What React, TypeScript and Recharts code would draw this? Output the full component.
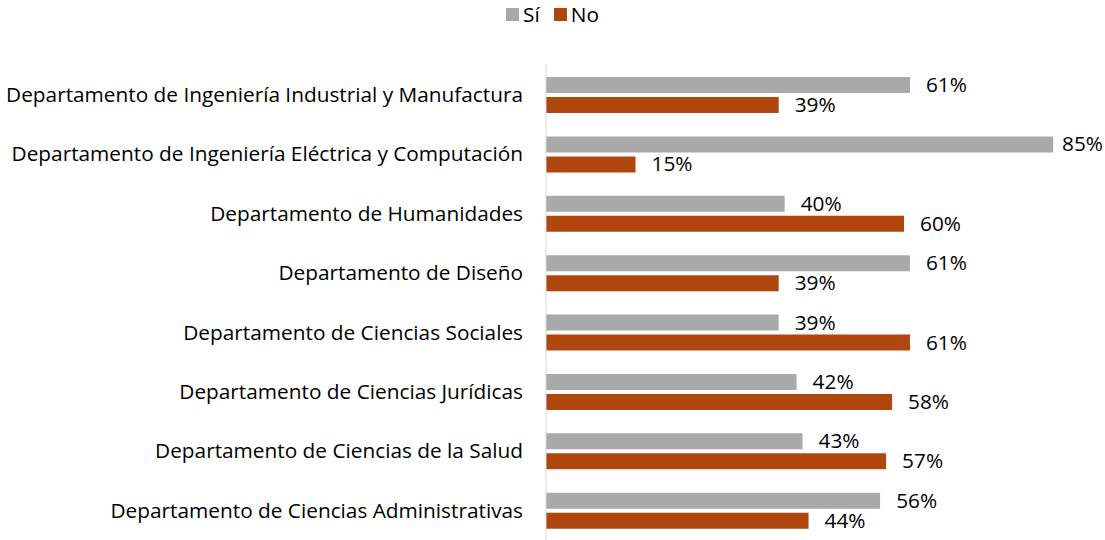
import React from 'react';
import { BarChart, Bar, XAxis, YAxis, LabelList } from 'recharts';

const departments = [
  'Departamento de Ingeniería Industrial y Manufactura',
  'Departamento de Ingeniería Eléctrica y Computación',
  'Departamento de Humanidades',
  'Departamento de Diseño',
  'Departamento de Ciencias Sociales',
  'Departamento de Ciencias Jurídicas',
  'Departamento de Ciencias de la Salud',
  'Departamento de Ciencias Administrativas',
];

const siValues = [61, 85, 40, 61, 39, 42, 43, 56];
const noValues = [39, 15, 60, 39, 61, 58, 57, 44];

const SI_COLOR = '#A9A9A9';
const NO_COLOR = '#B0470F';
const FONT = '"Open Sans", sans-serif';
const FONT_SIZE = 20.8;
const CHART_W = 1105;

const data = departments.map((name, i) => ({
  name,
  si: siValues[i],
  no: noValues[i],
}));

// label to the right of each bar, pulled back in when it would run off the edge
const renderLabel = (props: any) => {
  const { x, y, width, height, value } = props;
  const tx = Math.min(x + width + 16, CHART_W - 43);
  return (
    <text
      x={tx}
      y={y + height / 2 + 1.5}
      fill="#000"
      fontSize={FONT_SIZE}
      fontFamily={FONT}
      dominantBaseline="middle"
    >
      {`${value}%`}
    </text>
  );
};

const LegendBox = () => (
  <div
    style={{
      position: 'absolute',
      top: 0,
      left: 0,
      width: CHART_W,
      display: 'flex',
      justifyContent: 'center',
      alignItems: 'center',
      fontFamily: FONT,
      fontSize: FONT_SIZE,
      lineHeight: '28px',
      color: '#000',
      paddingLeft: 0,
      boxSizing: 'border-box',
    }}
  >
    <span style={{ display: 'flex', alignItems: 'center', gap: 4 }}>
      <span style={{ width: 13, height: 13, background: SI_COLOR, display: 'inline-block' }} />
      Sí
    </span>
    <span style={{ display: 'flex', alignItems: 'center', gap: 4, marginLeft: 14 }}>
      <span style={{ width: 13, height: 13, background: NO_COLOR, display: 'inline-block' }} />
      No
    </span>
  </div>
);

export default function App() {
  return (
    <div style={{ position: 'absolute', left: 0, top: 0, width: CHART_W, height: 540, background: '#fff' }}>
      <LegendBox />
      <BarChart
        width={CHART_W}
        height={540}
        data={data}
        layout="vertical"
        margin={{ top: 65, right: 22, bottom: 0, left: 0 }}
        barSize={16}
        barGap={4}
      >
        <XAxis type="number" domain={[0, 90]} hide />
        <YAxis
          type="category"
          dataKey="name"
          width={546}
          tickSize={0}
          tickMargin={23}
          axisLine={{ stroke: '#D9D9D9', strokeWidth: 1 }}
          tickLine={false}
          tick={{ fill: '#000', fontSize: FONT_SIZE, fontFamily: FONT }}
          interval={0}
        />
        <Bar dataKey="si" fill={SI_COLOR} isAnimationActive={false}>
          <LabelList dataKey="si" content={renderLabel} />
        </Bar>
        <Bar dataKey="no" fill={NO_COLOR} isAnimationActive={false}>
          <LabelList dataKey="no" content={renderLabel} />
        </Bar>
      </BarChart>
    </div>
  );
}
